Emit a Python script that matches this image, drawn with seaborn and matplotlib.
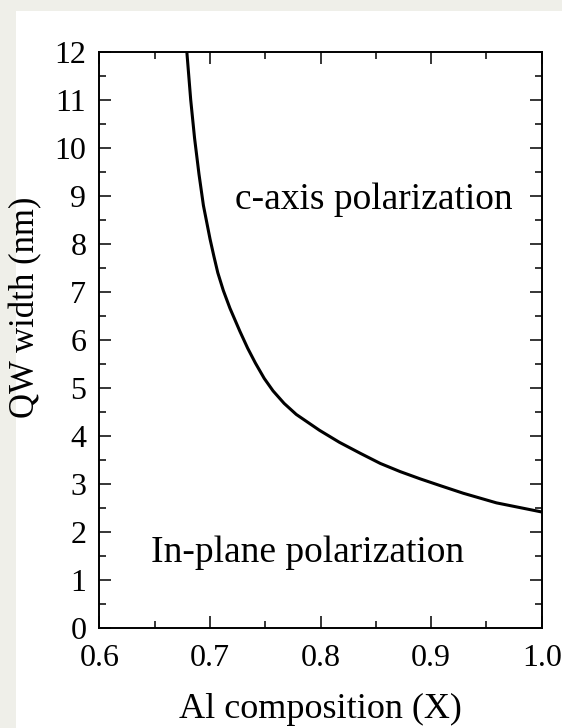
import matplotlib
matplotlib.use("Agg")
import matplotlib.pyplot as plt
import seaborn as sns
import pandas as pd
from matplotlib.patches import Rectangle
from matplotlib.ticker import MultipleLocator

# values
al_composition = [0.679, 0.6825, 0.686, 0.690, 0.694, 0.700, 0.7035, 0.707, 0.712,
                  0.718, 0.727, 0.734, 0.741, 0.749, 0.757, 0.767, 0.778,
                  0.799, 0.817, 0.836, 0.854, 0.872, 0.890, 0.908, 0.929,
                  0.959, 1.000]
qw_width = [12.0, 11.0, 10.2, 9.45, 8.8, 8.1, 7.74, 7.4, 7.03,
            6.66, 6.18, 5.83, 5.52, 5.2, 4.94, 4.68, 4.45,
            4.12, 3.87, 3.64, 3.43, 3.26, 3.11, 2.97, 2.81,
            2.61, 2.42]

x_ticks = [0.6, 0.7, 0.8, 0.9, 1.0]
x_tick_labels = ["0.6", "0.7", "0.8", "0.9", "1.0"]
y_ticks = list(range(0, 13))

df = pd.DataFrame({"x": al_composition, "w": qw_width})

sns.set_theme(style="ticks")
plt.rcParams["font.family"] = ["Liberation Serif", "DejaVu Serif"]
plt.rcParams["text.color"] = "black"
plt.rcParams["axes.labelcolor"] = "black"

fig = plt.figure(figsize=(5.62, 7.28), dpi=100, facecolor="#efefe9")
# screenshot margin: beige strip on top and left, white page behind the plot
fig.patches.append(Rectangle((0.028, 0), 0.972, 0.985, transform=fig.transFigure,
                             facecolor="white", edgecolor="none", zorder=-1))
ax = fig.add_axes([0.177, 0.137, 0.787, 0.792])

sns.lineplot(data=df, x="x", y="w", color="black", linewidth=2.2, ax=ax, sort=False)

ax.set_xlim(0.6, 1.0)
ax.set_ylim(0, 12)
ax.set_xticks(x_ticks)
ax.set_xticklabels(x_tick_labels)
ax.set_yticks(y_ticks)
ax.xaxis.set_minor_locator(MultipleLocator(0.05))
ax.yaxis.set_minor_locator(MultipleLocator(0.5))

ax.tick_params(which="both", direction="in", top=True, right=True, width=1.1,
               labelsize=23, colors="black")
ax.tick_params(axis="x", which="major", pad=11.5)
ax.tick_params(axis="y", which="major", pad=9.5)
ax.tick_params(which="major", length=8.4)
ax.tick_params(which="minor", length=4.8)
for s in ax.spines.values():
    s.set_linewidth(1.4)
    s.set_color("black")

ax.set_xlabel("Al composition (X)", fontsize=26)
ax.set_ylabel("QW width (nm)", fontsize=25)
ax.xaxis.set_label_coords(0.5, -0.112)
ax.yaxis.set_label_coords(-0.13, 0.556)

ax.text(0.848, 8.72, "c-axis polarization", fontsize=27, ha="center", va="baseline")
ax.text(0.788, 1.38, "In-plane polarization", fontsize=27, ha="center", va="baseline")

fig.savefig("out.png", dpi=100, facecolor=fig.get_facecolor())
